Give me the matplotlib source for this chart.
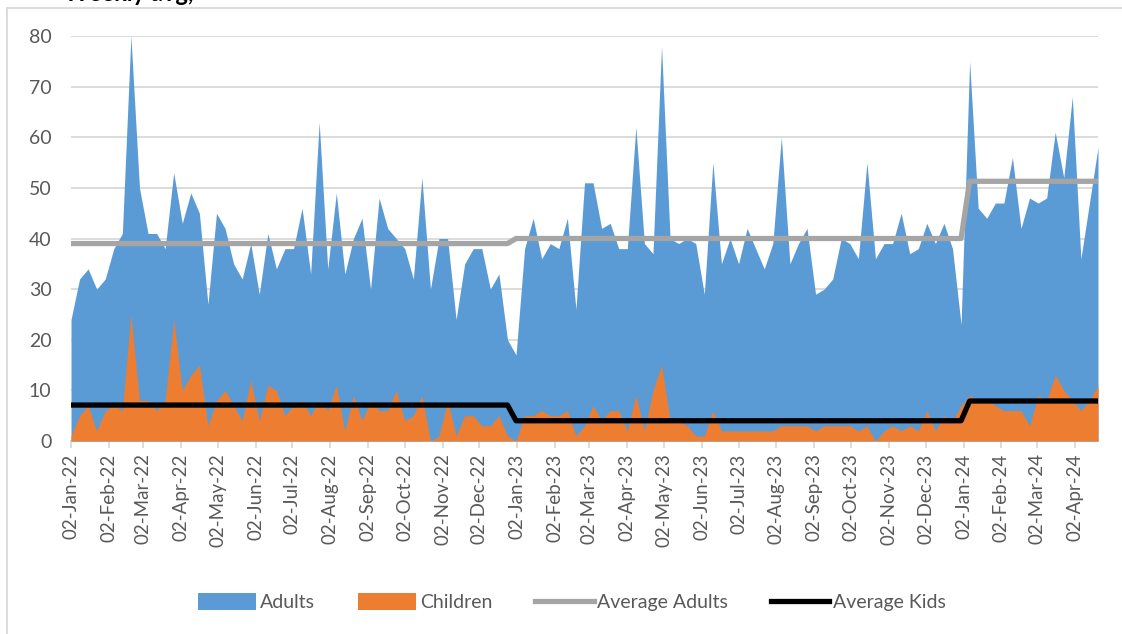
import matplotlib
matplotlib.use("Agg")
import matplotlib.pyplot as plt
import matplotlib.dates as mdates
from matplotlib.patches import Patch
from matplotlib.lines import Line2D
import pandas as pd
import numpy as np

plt.rcParams['font.family'] = ['Lato', 'DejaVu Sans']

start_date = "2022-01-02"
adults = [24, 32, 34, 30, 32, 38, 41, 80, 50, 41, 41, 38, 53, 43, 49, 45,
          27, 45, 42, 35, 32, 39, 29, 41, 34, 38, 38, 46, 33, 63, 34,
          49, 33, 40, 44, 30, 48, 42, 40, 38, 32, 52, 30, 40, 40, 24,
          35, 38, 38, 30, 33, 20, 17, 38, 44, 36, 39, 38, 44, 26, 51,
          51, 42, 43, 38, 38, 62, 39, 37, 78, 40, 39, 40, 39, 29, 55,
          35, 40, 35, 42, 38, 34, 39, 60, 35, 39, 42, 29, 30, 32, 40,
          39, 36, 55, 36, 39, 39, 45, 37, 38, 43, 39, 43, 38, 23, 75,
          46, 44, 47, 47, 56, 42, 48, 47, 48, 61, 52, 68, 36, 47, 58]
children = [1, 5, 7, 2, 6, 7, 6, 25, 8, 8, 6, 8, 24, 10, 13, 15,
            3, 8, 10, 7, 4, 12, 4, 11, 10, 5, 7, 8, 5, 8, 6,
            11, 2, 9, 4, 8, 6, 6, 10, 4, 5, 9, 0, 1, 8, 1,
            5, 5, 3, 3, 5, 1, 0, 5, 5, 6, 5, 5, 6, 1, 3,
            7, 4, 6, 6, 2, 9, 2, 10, 15, 4, 4, 3, 1, 1, 6,
            2, 2, 2, 2, 2, 2, 2, 3, 3, 3, 3, 2, 3, 3, 3,
            3, 2, 3, 0, 2, 3, 2, 3, 2, 6, 2, 5, 4, 7, 9,
            8, 8, 7, 6, 6, 6, 3, 9, 8, 13, 10, 8, 6, 8, 11]
avg_years = [2022, 2023, 2024]
avg_adults_by_year = [39.0, 40.0, 51.3]
avg_kids_by_year = [7.1, 4.0, 7.9]

dates = pd.date_range(start_date, periods=len(adults), freq="7D")
yr_a = dict(zip(avg_years, avg_adults_by_year))
yr_k = dict(zip(avg_years, avg_kids_by_year))
avg_adults = [yr_a[d.year] for d in dates]
avg_kids = [yr_k[d.year] for d in dates]

W, H = 1122, 634
fig = plt.figure(figsize=(W / 100, H / 100), dpi=100)
ax = fig.add_axes([71 / W, 1 - 441 / H, (1098 - 71) / W, (441 - 36) / H])

blue = "#5B9BD5"
orange = "#ED7D31"
ax.fill_between(dates, 0, adults, color=blue, lw=0, zorder=2)
ax.fill_between(dates, 0, children, color=orange, lw=0, zorder=3)
ax.plot(dates, avg_adults, color="#A5A5A5", lw=3.8, zorder=4, solid_capstyle='round')
ax.plot(dates, avg_kids, color="#000000", lw=3.8, zorder=5, solid_capstyle='round')

ax.set_xlim(dates[0], dates[-1])
ax.set_ylim(0, 80)
ax.set_yticks(range(0, 81, 10))
ax.yaxis.grid(True, color="#D9D9D9", lw=1.3, zorder=0)
ax.set_axisbelow(True)
for s in ["top", "right", "left"]:
    ax.spines[s].set_visible(False)
ax.spines["bottom"].set_color("#D9D9D9")
ax.spines["bottom"].set_linewidth(1.3)
ax.spines["bottom"].set_zorder(1)

ax.xaxis.set_major_locator(mdates.MonthLocator(bymonthday=2))
ax.xaxis.set_major_formatter(mdates.DateFormatter("%d-%b-%y"))
ax.tick_params(axis="x", which="major", length=5, color="#D9D9D9", width=1.3,
               labelsize=13.5, labelcolor="#595959", rotation=90, pad=4)
ax.tick_params(axis="y", length=0, labelsize=14, labelcolor="#595959", pad=14)

handles = [Patch(facecolor=blue, edgecolor='none'),
           Patch(facecolor=orange, edgecolor='none'),
           Line2D([0], [0], color="#A5A5A5", lw=3.8),
           Line2D([0], [0], color="#000000", lw=3.8)]
labels = ["Adults", "Children", "Average Adults", "Average Kids"]
fig.legend(handles, labels, loc="center", bbox_to_anchor=(572 / W, 1 - 602 / H),
           ncol=4, frameon=False, fontsize=14, labelcolor="#595959",
           handlelength=3.0, handleheight=1.0, handletextpad=0.2, columnspacing=2.2)

# chart border (top and left visible)
fig.add_artist(Line2D([7 / W, 1.0], [1 - 8 / H, 1 - 8 / H], color="#D9D9D9", lw=1.3,
                      transform=fig.transFigure))
fig.add_artist(Line2D([7 / W, 7 / W], [0, 1 - 8 / H], color="#D9D9D9", lw=1.3,
                      transform=fig.transFigure))

# title: only its lower edge is visible in the reference (cut off at top)
fig.text(64 / W, 1 - 1 / H, "Weekly avg,", fontsize=17, fontweight="bold",
         color="black", va="baseline", ha="left")

fig.savefig("out.png", dpi=100)
